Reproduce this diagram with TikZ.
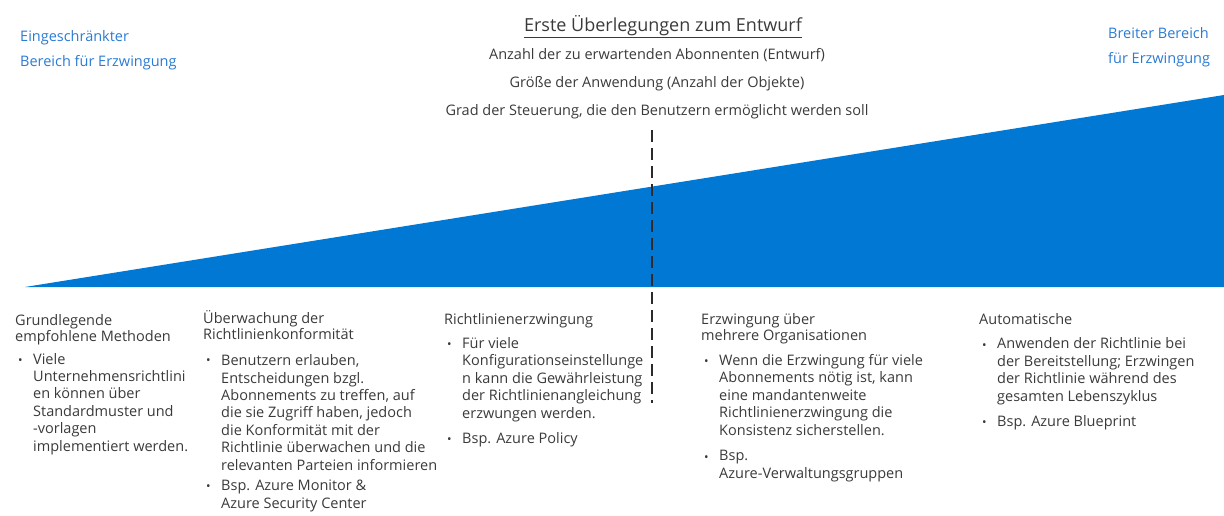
\documentclass[tikz,border=0pt]{standalone}
\usepackage{fontspec}
\setmainfont{Open Sans}
\definecolor{azure}{HTML}{0078D4}
\definecolor{txt}{HTML}{3A3A3A}
\definecolor{dashcol}{HTML}{2B2B2B}
\definecolor{bluetxt}{HTML}{2A7BD4}
\tikzset{
  body/.style={anchor=base west, inner sep=0pt, align=left, text=txt, font=\fontsize{14.5}{17.4}\selectfont},
  head/.style={anchor=base west, inner sep=0pt, align=left, text=txt, font=\fontsize{14.5}{16}\selectfont},
  bul/.style={anchor=base west, inner sep=0pt, text=txt, font=\fontsize{12}{12}\selectfont},
  blue/.style={anchor=base west, inner sep=0pt, align=left, text=bluetxt, font=\fontsize{14.5}{25}\selectfont},
  ctr/.style={anchor=base, inner sep=0pt, text=txt, font=\fontsize{14.5}{16}\selectfont},
}
\begin{document}
\begin{tikzpicture}[x=1pt,y=-1pt]
\useasboundingbox (0,0) rectangle (1224,515);
% wedge
\coordinate (tl) at (25,287);
\coordinate (tr) at (1224,95);
\coordinate (br) at (1224,287);
\fill[azure] (tl) -- (tr) -- (br) -- cycle;
% dashed divider
\coordinate (dtop) at (652,130);
\coordinate (dbot) at (652,403);
\draw[dashcol, line width=2.6pt, dash pattern=on 12pt off 6pt] (dtop) -- (dbot);
% top texts (anchor = baseline of last line)
\node[blue] (lefttxt) at (20,66) {Eingeschränkter\\Bereich für Erzwingung};
\node[blue] (righttxt) at (1108,63) {Breiter Bereich\\für Erzwingung};
\node[ctr, font=\fontsize{18}{20}\selectfont] (title) at (663,31) {\underline{Erste Überlegungen zum Entwurf}};
\node[ctr] (t1) at (657,59) {Anzahl der zu erwartenden Abonnenten (Entwurf)};
\node[ctr] (t2) at (657,87) {Größe der Anwendung (Anzahl der Objekte)};
\node[ctr] (t3) at (657,115) {Grad der Steuerung, die den Benutzern ermöglicht werden soll};
% column 1
\node[head] (h1) at (15,341) {Grundlegende\\empfohlene Methoden};
\node[bul] (b11) at (18,364) {•};
\node[body] (p11) at (33,451) {Viele\\Unternehmensrichtlini\\en können über\\Standardmuster und\\-vorlagen\\implementiert werden.};
% column 2
\node[head] (h2) at (203,339) {Überwachung der\\Richtlinienkonformität};
\node[bul] (b21) at (206,364) {•};
\node[body] (p21) at (221,470) {Benutzern erlauben,\\Entscheidungen bzgl.\\Abonnements zu treffen, auf\\die sie Zugriff haben, jedoch\\die Konformität mit der\\Richtlinie überwachen und die\\relevanten Parteien informieren};
\node[bul] (b22) at (206,490) {•};
\node[body] (p22) at (221,508) {Bsp. Azure Monitor \&\\Azure Security Center};
% column 3
\node[head] (h3) at (444,324) {Richtlinienerzwingung};
\node[bul] (b31) at (447,348) {•};
\node[body] (p31) at (462,418) {Für viele\\Konfigurationseinstellunge\\n kann die Gewährleistung\\der Richtlinienangleichung\\erzwungen werden.};
\node[bul] (b32) at (447,443) {•};
\node[body] (p32) at (462,443) {Bsp. Azure Policy};
% column 4
\node[head] (h4) at (701,340) {Erzwingung über\\mehrere Organisationen};
\node[bul] (b41) at (704,365) {•};
\node[body] (p41) at (719,435) {Wenn die Erzwingung für viele\\Abonnements nötig ist, kann\\eine mandantenweite\\Richtlinienerzwingung die\\Konsistenz sicherstellen.};
\node[bul] (b42) at (704,461) {•};
\node[body] (p42) at (719,478) {Bsp.\\Azure-Verwaltungsgruppen};
% column 5
\node[head] (h5) at (979,324) {Automatische};
\node[bul] (b51) at (982,349) {•};
\node[body] (p51) at (997,401) {Anwenden der Richtlinie bei\\der Bereitstellung; Erzwingen\\der Richtlinie während des\\gesamten Lebenszyklus};
\node[bul] (b52) at (982,426) {•};
\node[body] (p52) at (997,426) {Bsp. Azure Blueprint};
\end{tikzpicture}
\end{document}
